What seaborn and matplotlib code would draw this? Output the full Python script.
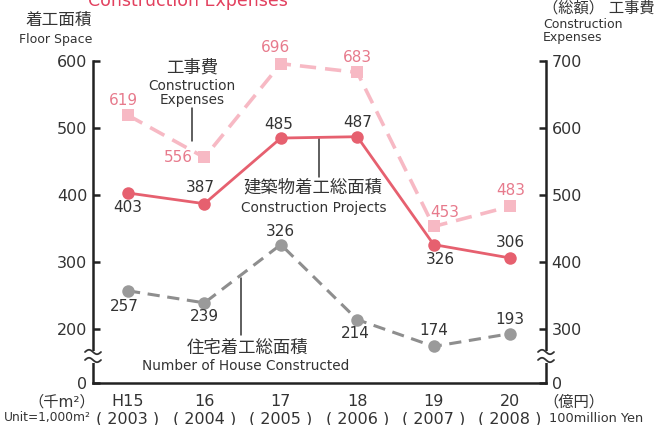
import numpy as np
import pandas as pd
import seaborn as sns
import matplotlib.pyplot as plt
from matplotlib.lines import Line2D
from matplotlib.patches import Rectangle

# data
years = ["H15\n( 2003 )", "16\n( 2004 )", "17\n( 2005 )", "18\n( 2006 )", "19\n( 2007 )", "20\n( 2008 )"]
projects = [403, 387, 485, 487, 326, 306]      # 建築物着工総面積 (千m2, left axis)
houses = [257, 239, 326, 214, 174, 193]        # 住宅着工総面積 (千m2, left axis)
expenses = [619, 556, 696, 683, 453, 483]      # 工事費 (億円, right axis)

left_ticks = [200, 300, 400, 500, 600]
right_ticks = [300, 400, 500, 600, 700]

# label offsets in pixels (dx, dy)
proj_off = [(0, -15), (-4, 16), (-2, 14), (0, 14), (7, -15), (0, 15)]
house_off = [(-4, -16), (0, -14), (0, 13), (-2, -14), (0, 16), (0, 14)]
exp_off = [(-5, 15), (-26, 0), (-5, 16), (0, 15), (11, 14), (1, 16)]

sns.set_style("white")
plt.rcParams['font.family'] = ['DejaVu Sans', 'Noto Sans CJK JP']

RED = "#e6606f"
PINK = "#f7b9c4"
PINK_TXT = "#e77a8c"
GRAY = "#8e8e8e"
TXT = "#333333"

W, H = 655, 425
fig = plt.figure(figsize=(W / 100, H / 100), dpi=100)
ax = fig.add_axes([93 / W, 1 - 383 / H, (546 - 93) / W, (383 - 61) / H])
ax2 = ax.twinx()

x = np.arange(len(years))
df = pd.DataFrame({"x": x, "projects": projects, "houses": houses, "expenses": expenses})

# broken axis: 0 sits 54 px below 200 (100 units = 67 px)
low_left = 200 - 54 / 0.67
low_right = low_left + 100

sns.lineplot(data=df, x="x", y="houses", ax=ax, color=GRAY, linestyle=(0, (4, 2.5)),
             linewidth=2.2, marker="o", markersize=9, markeredgewidth=0,
             markerfacecolor="#9a9a9a", clip_on=False)
sns.lineplot(data=df, x="x", y="projects", ax=ax, color=RED, linewidth=2,
             marker="o", markersize=9, markeredgewidth=0, clip_on=False)
sns.lineplot(data=df, x="x", y="expenses", ax=ax2, color=PINK, linestyle=(0, (4.5, 2.5)),
             linewidth=2.6, marker="s", markersize=8.5, markeredgewidth=0, clip_on=False)
ax.set_zorder(2)
ax.patch.set_visible(False)

ax.set_xlim(-0.458, 5.47)
ax.set_ylim(low_left, 600)
ax2.set_ylim(low_right, 700)

ax.set_xticks(x)
ax.set_xticklabels(years, fontsize=11.5, color=TXT, linespacing=1.2)
ax.set_yticks([low_left] + left_ticks)
ax.set_yticklabels(["0"] + [str(t) for t in left_ticks], fontsize=11.5, color=TXT)
ax2.set_yticks([low_right] + right_ticks)
ax2.set_yticklabels(["0"] + [str(t) for t in right_ticks], fontsize=11.5, color=TXT)
ax.set_xlabel("")
ax.set_ylabel("")
ax2.set_ylabel("")

for a in (ax, ax2):
    a.tick_params(direction="in", length=5, width=1.8, colors="#222222", pad=4)
    a.tick_params(axis="y", labelcolor=TXT)
    a.tick_params(axis="x", labelcolor=TXT, pad=8)
    for s in a.spines.values():
        s.set_linewidth(1.8)
        s.set_color("#222222")
    a.spines["top"].set_visible(False)
ax.spines["right"].set_visible(False)
ax2.spines["left"].set_visible(False)
ax2.spines["bottom"].set_visible(False)

# value labels
for i in range(len(x)):
    ax.annotate(str(projects[i]), (x[i], projects[i]), xytext=proj_off[i], textcoords="offset pixels",
                ha="center", va="center", fontsize=11, color=TXT, annotation_clip=False)
    ax.annotate(str(houses[i]), (x[i], houses[i]), xytext=house_off[i], textcoords="offset pixels",
                ha="center", va="center", fontsize=11, color=TXT, annotation_clip=False)
    ax2.annotate(str(expenses[i]), (x[i], expenses[i]), xytext=exp_off[i], textcoords="offset pixels",
                 ha="center", va="center", fontsize=11, color=PINK_TXT, annotation_clip=False)


def fx(px):
    return px / W


def fy(py):
    return 1 - py / H


def leader(x0, y0, y1):
    fig.add_artist(Line2D([fx(x0), fx(x0)], [fy(y0), fy(y1)], color="#333333", lw=1.1))


# series captions with leader lines
fig.text(fx(192), fy(68), "工事費", ha="center", va="center", fontsize=12.5, color=TXT)
fig.text(fx(192), fy(93), "Construction\nExpenses", ha="center", va="center", fontsize=9.8,
         color=TXT, linespacing=1.05)
leader(192, 108, 141)
fig.text(fx(313), fy(188), "建築物着工総面積", ha="center", va="center", fontsize=12.5, color=TXT)
fig.text(fx(314), fy(208), "Construction Projects", ha="center", va="center", fontsize=9.8, color=TXT)
leader(319, 138, 177)
fig.text(fx(247), fy(348), "住宅着工総面積", ha="center", va="center", fontsize=12.5, color=TXT)
fig.text(fx(246), fy(366), "Number of House Constructed", ha="center", va="center", fontsize=9.8, color=TXT)
leader(241, 278, 335)

# axis headers and units
fig.text(fx(92), fy(20), "着工面積", ha="right", va="center", fontsize=12, color=TXT)
fig.text(fx(92), fy(39), "Floor Space", ha="right", va="center", fontsize=9, color=TXT)
fig.text(fx(655), fy(8), "（総額） 工事費", ha="right", va="center", fontsize=11, color=TXT)
fig.text(fx(543), fy(31), "Construction\nExpenses", ha="left", va="center", fontsize=9,
         color=TXT, linespacing=1.0)
fig.text(fx(62), fy(402), "（千m²）", ha="center", va="center", fontsize=11, color=TXT)
fig.text(fx(47), fy(418), "Unit=1,000m²", ha="center", va="center", fontsize=8.8, color=TXT)
fig.text(fx(574), fy(402), "（億円）", ha="center", va="center", fontsize=11, color=TXT)
fig.text(fx(549), fy(418), "100million Yen", ha="left", va="center", fontsize=9.3, color=TXT)
fig.text(fx(188), fy(6), "Construction Expenses", ha="center", va="baseline", fontsize=12.5,
         color="#e2405e")

# axis break squiggles on both spines
for sx in (93, 546):
    fig.add_artist(Rectangle((fx(sx - 3), fy(363)), 6 / W, 12 / H, facecolor="white",
                             edgecolor="none", zorder=5))
    t = np.linspace(-1, 1, 40)
    for yy in (352, 360):
        fig.add_artist(Line2D(fx(sx + 8 * t), fy(yy + 2.2 * np.sin(np.pi * t)),
                              color="#333333", lw=1.3, zorder=6))

fig.savefig("out.png", dpi=100)
